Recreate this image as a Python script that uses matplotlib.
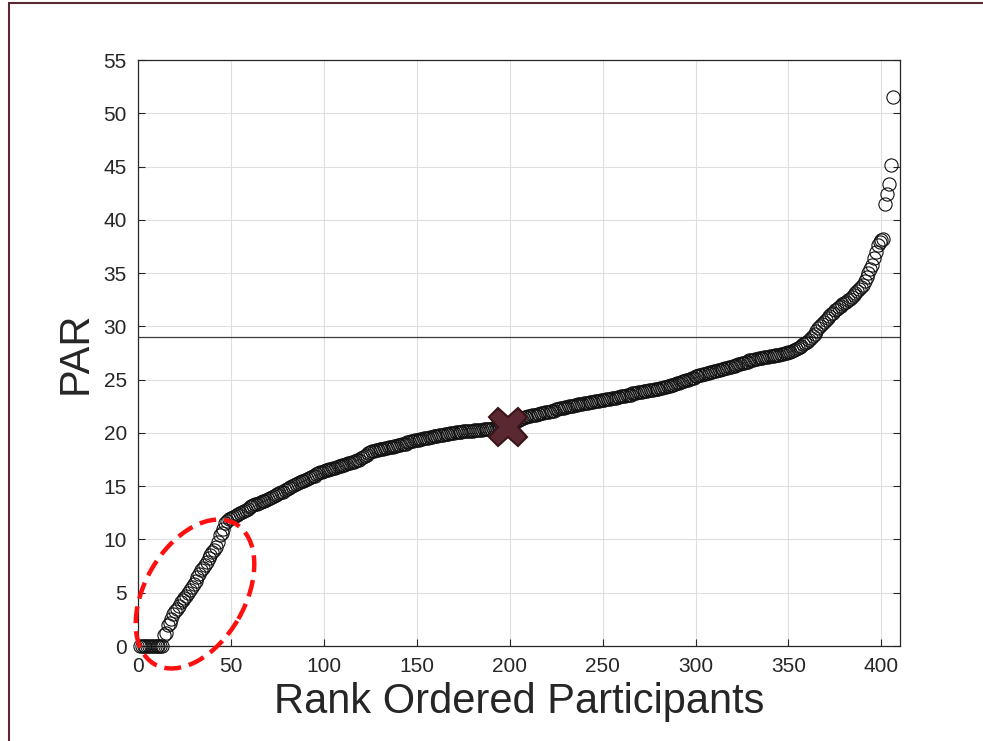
import matplotlib
matplotlib.use("Agg")
import matplotlib.pyplot as plt
from matplotlib.patches import Ellipse, Rectangle

plt.rcParams["font.family"] = ["Liberation Sans", "DejaVu Sans"]

# PAR score of each participant, sorted ascending (rank 1..406)
par_values = [
    0, 0, 0, 0, 0, 0, 0, 0, 0, 0,
    0, 0, 0, 1.0, 1.2, 2.0, 2.2, 2.5, 3.0, 3.3,
    3.5, 3.8, 4.1, 4.3, 4.5, 4.7, 5.0, 5.3, 5.5, 5.8,
    6.1, 6.5, 6.8, 7.1, 7.3, 7.6, 7.9, 8.3, 8.5, 8.8,
    9.0, 9.3, 9.8, 10.4, 10.6, 11.0, 11.5, 11.7, 11.9, 12.0,
    12.1, 12.2, 12.3, 12.4, 12.5, 12.6, 12.7, 12.8, 12.9, 13.0,
    13.1, 13.2, 13.3, 13.3, 13.4, 13.5, 13.6, 13.6, 13.7, 13.8,
    13.9, 14.0, 14.1, 14.2, 14.3, 14.4, 14.5, 14.5, 14.6, 14.7,
    14.8, 14.9, 15.0, 15.1, 15.2, 15.3, 15.4, 15.5, 15.5, 15.6,
    15.7, 15.8, 15.9, 16.0, 16.0, 16.1, 16.2, 16.3, 16.3, 16.4,
    16.5, 16.5, 16.6, 16.6, 16.7, 16.7, 16.8, 16.9, 16.9, 17.0,
    17.0, 17.1, 17.2, 17.2, 17.3, 17.3, 17.4, 17.5, 17.5, 17.6,
    17.7, 17.8, 17.9, 18.1, 18.2, 18.3, 18.3, 18.4, 18.4, 18.5,
    18.5, 18.5, 18.6, 18.6, 18.7, 18.7, 18.7, 18.8, 18.8, 18.9,
    18.9, 19.0, 19.0, 19.0, 19.1, 19.1, 19.2, 19.2, 19.3, 19.3,
    19.3, 19.4, 19.4, 19.5, 19.5, 19.5, 19.6, 19.6, 19.7, 19.7,
    19.7, 19.8, 19.8, 19.8, 19.9, 19.9, 19.9, 20.0, 20.0, 20.0,
    20.1, 20.1, 20.1, 20.1, 20.2, 20.2, 20.2, 20.2, 20.2, 20.2,
    20.3, 20.3, 20.3, 20.3, 20.3, 20.4, 20.4, 20.4, 20.4, 20.4,
    20.5, 20.5, 20.5, 20.5, 20.5, 20.6, 20.6, 20.6, 20.6, 20.7,
    20.8, 20.9, 21.0, 21.1, 21.2, 21.3, 21.4, 21.5, 21.5, 21.6,
    21.6, 21.7, 21.7, 21.7, 21.8, 21.8, 21.9, 21.9, 22.0, 22.0,
    22.0, 22.1, 22.1, 22.1, 22.2, 22.2, 22.3, 22.3, 22.3, 22.4,
    22.4, 22.5, 22.5, 22.5, 22.6, 22.6, 22.7, 22.7, 22.7, 22.8,
    22.8, 22.8, 22.9, 22.9, 22.9, 23.0, 23.0, 23.0, 23.1, 23.1,
    23.1, 23.2, 23.2, 23.2, 23.3, 23.3, 23.3, 23.4, 23.4, 23.5,
    23.5, 23.5, 23.6, 23.6, 23.6, 23.7, 23.7, 23.7, 23.8, 23.8,
    23.8, 23.9, 23.9, 23.9, 24.0, 24.0, 24.0, 24.1, 24.1, 24.1,
    24.2, 24.2, 24.3, 24.3, 24.4, 24.4, 24.5, 24.5, 24.6, 24.7,
    24.7, 24.8, 24.9, 24.9, 25.0, 25.0, 25.1, 25.2, 25.2, 25.3,
    25.3, 25.4, 25.4, 25.5, 25.5, 25.6, 25.6, 25.7, 25.7, 25.8,
    25.8, 25.9, 25.9, 26.0, 26.0, 26.1, 26.1, 26.2, 26.2, 26.3,
    26.3, 26.4, 26.5, 26.5, 26.6, 26.6, 26.7, 26.7, 26.8, 26.8,
    26.8, 26.9, 26.9, 27.0, 27.0, 27.0, 27.1, 27.1, 27.1, 27.2,
    27.2, 27.2, 27.3, 27.3, 27.3, 27.4, 27.4, 27.5, 27.5, 27.6,
    27.6, 27.7, 27.8, 27.9, 28.0, 28.1, 28.2, 28.3, 28.4, 28.5,
    28.7, 28.9, 29.1, 29.3, 29.6, 29.8, 30.0, 30.2, 30.4, 30.6,
    30.8, 31.0, 31.2, 31.3, 31.5, 31.6, 31.8, 31.9, 32.1, 32.2,
    32.3, 32.5, 32.6, 32.8, 32.9, 33.1, 33.3, 33.5, 33.7, 33.9,
    34.3, 34.6, 35.0, 35.4, 35.8, 36.4, 37.0, 37.6, 37.9, 38.1,
    38.2, 41.5, 42.4, 43.4, 45.1, 51.5,
]
ranks = list(range(1, len(par_values) + 1))

median_rank = 199
median_par = 20.6
cutoff_par = 29

x_ticks = [0, 50, 100, 150, 200, 250, 300, 350, 400]
y_ticks = [0, 5, 10, 15, 20, 25, 30, 35, 40, 45, 50, 55]

TXT = "#262626"

fig = plt.figure(figsize=(9.83, 7.41), dpi=100)
fig.patch.set_facecolor("white")
ax = fig.add_axes([138 / 983, 95 / 741, 762 / 983, 586 / 741])

ax.grid(True, color="#dedede", linewidth=0.8)
ax.set_axisbelow(True)

ax.plot(ranks, par_values, "o", markersize=9.5, markerfacecolor="none",
        markeredgecolor="#111111", markeredgewidth=0.8, clip_on=False, zorder=3)
ax.axhline(cutoff_par, color="#3a3a3a", linewidth=0.9, zorder=2)
ax.plot([median_rank], [median_par], "X", markersize=28,
        markerfacecolor="#5a2830", markeredgecolor="#3a1418",
        markeredgewidth=1.5, zorder=5)

ax.set_xlim(0, 410)
ax.set_ylim(0, 55)
ax.set_xticks(x_ticks)
ax.set_yticks(y_ticks)
ax.tick_params(direction="in", length=5, width=0.8, colors=TXT,
               labelsize=15, top=False, right=True, pad=8)
for s in ax.spines.values():
    s.set_color(TXT)
    s.set_linewidth(0.9)

ax.set_xlabel("Rank Ordered Participants", fontsize=30, color=TXT, labelpad=4)
ax.set_ylabel("PAR", fontsize=30, color=TXT, labelpad=6)

# red dashed ellipse highlighting the low scorers (drawn in inches)
ell = Ellipse((1.95, 1.47), 1.62, 1.0, angle=60, fill=False,
              edgecolor="#ff1010", linewidth=3.2, linestyle=(0, (3.8, 1.8)),
              transform=fig.dpi_scale_trans, zorder=6)
fig.add_artist(ell)

# slide frame
frame = Rectangle((9 / 983, -0.2), 1.2, 1.2 - 3 / 741, fill=False,
                  edgecolor="#5a2a33", linewidth=1.5,
                  transform=fig.transFigure)
fig.add_artist(frame)

fig.savefig("out.png", dpi=100)
